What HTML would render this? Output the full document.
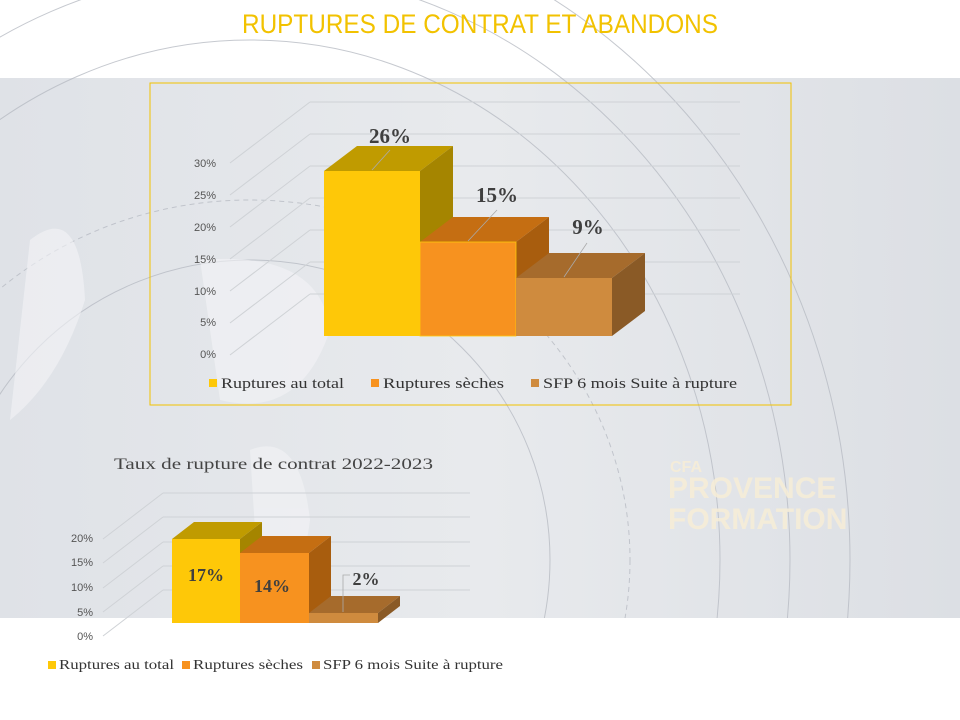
<!DOCTYPE html>
<html><head><meta charset="utf-8"><style>
html,body{margin:0;padding:0;overflow:hidden;width:960px;height:720px;}
body{background:#fff;font-family:"Liberation Serif",serif;}
#wrap{position:absolute;left:0;top:0;width:960px;height:720px;overflow:hidden;}
svg{display:block;overflow:hidden;}
</style></head><body><div id="wrap">
<svg width="960" height="720" viewBox="0 0 960 720" xmlns="http://www.w3.org/2000/svg">
<defs>
<linearGradient id="bg" x1="0" y1="0" x2="1" y2="0">
<stop offset="0" stop-color="#dfe2e7"/><stop offset="0.5" stop-color="#e8eaed"/><stop offset="1" stop-color="#dcdfe4"/>
</linearGradient>
</defs>
<rect x="0" y="78" width="960" height="540" fill="url(#bg)"/>
<g fill="none" stroke="#b8bcc4" stroke-width="1" opacity="0.8">
<ellipse cx="250" cy="560" rx="470" ry="520"/>
<ellipse cx="250" cy="560" rx="540" ry="590"/>
<ellipse cx="250" cy="560" rx="600" ry="650"/>
<ellipse cx="250" cy="560" rx="380" ry="360" stroke-dasharray="5,4"/>
<ellipse cx="250" cy="560" rx="300" ry="300"/>
</g>
<g fill="#f3f4f6" opacity="0.6">
<path d="M30 240 Q80 200 85 300 Q60 380 10 420 Z"/>
<path d="M200 260 Q320 250 330 330 Q300 420 220 400 Z"/>
<path d="M250 450 Q300 430 310 520 Q300 600 260 610 Z"/>
</g>
<text x="242" y="33" font-family="Liberation Sans,sans-serif" font-size="27" fill="#f2c200" textLength="476" lengthAdjust="spacingAndGlyphs">RUPTURES DE CONTRAT ET ABANDONS</text>
<g font-family="Liberation Sans,sans-serif" font-weight="bold" font-size="30" fill="#f6edd8" opacity="0.9">
<text x="670" y="472" font-size="16">CFA</text>
<text x="668" y="498">PROVENCE</text>
<text x="668" y="529">FORMATION</text>
</g>
<rect x="150" y="83" width="641" height="322" fill="none" stroke="#f2c200" stroke-width="1"/>
<g stroke="#cfd2d6" stroke-width="1">
<line x1="230" y1="163" x2="310" y2="102"/><line x1="310" y1="102" x2="740" y2="102"/>
<line x1="230" y1="195" x2="310" y2="134"/><line x1="310" y1="134" x2="740" y2="134"/>
<line x1="230" y1="227" x2="310" y2="166"/><line x1="310" y1="166" x2="740" y2="166"/>
<line x1="230" y1="259" x2="310" y2="198"/><line x1="310" y1="198" x2="740" y2="198"/>
<line x1="230" y1="291" x2="310" y2="230"/><line x1="310" y1="230" x2="740" y2="230"/>
<line x1="230" y1="323" x2="310" y2="262"/><line x1="310" y1="262" x2="740" y2="262"/>
<line x1="230" y1="355" x2="310" y2="294"/><line x1="310" y1="294" x2="740" y2="294"/>
</g>
<g font-family="Liberation Sans,sans-serif" font-size="11" fill="#555" text-anchor="end">
<text x="216" y="167">30%</text><text x="216" y="199">25%</text><text x="216" y="231">20%</text>
<text x="216" y="263">15%</text><text x="216" y="295">10%</text><text x="216" y="326">5%</text><text x="216" y="358">0%</text>
</g>
<polygon points="324,171 357,146 453,146 420,171" fill="#c09b00"/>
<polygon points="420,171 453,146 453,311 420,336" fill="#a58500"/>
<rect x="324" y="171" width="96" height="165" fill="#fec808"/>
<polygon points="420,242 453,217 549,217 516,242" fill="#c56e12"/>
<polygon points="516,242 549,217 549,311 516,336" fill="#a85d0e"/>
<rect x="420" y="242" width="96" height="94" fill="#f7921f" stroke="#fec808" stroke-width="0.8"/>
<polygon points="516,278 549,253 645,253 612,278" fill="#a66b2c"/>
<polygon points="612,278 645,253 645,311 612,336" fill="#8a5a26"/>
<rect x="516" y="278" width="96" height="58" fill="#cf8b3e"/>
<g stroke="#aaa" stroke-width="0.8"><line x1="372" y1="170" x2="390" y2="150"/><line x1="468" y1="241" x2="497" y2="210"/><line x1="564" y1="277" x2="587" y2="243"/></g>
<g font-weight="bold" font-size="21" fill="#3f3f3f" text-anchor="middle">
<text x="390" y="143">26%</text><text x="497" y="202">15%</text><text x="588" y="234">9%</text>
</g>
<g font-size="15" fill="#333">
<rect x="209" y="379" width="8" height="8" fill="#fec808"/><text x="221" y="388" textLength="123" lengthAdjust="spacingAndGlyphs">Ruptures au total</text>
<rect x="371" y="379" width="8" height="8" fill="#f7921f"/><text x="383" y="388" textLength="121" lengthAdjust="spacingAndGlyphs">Ruptures sèches</text>
<rect x="531" y="379" width="8" height="8" fill="#cf8b3e"/><text x="543" y="388" textLength="194" lengthAdjust="spacingAndGlyphs">SFP 6 mois  Suite à rupture</text>
</g>
<rect x="0" y="618" width="960" height="102" fill="#fff"/>
<text x="114" y="469" font-size="16" fill="#444" textLength="319" lengthAdjust="spacingAndGlyphs">Taux de rupture de contrat 2022-2023</text>
<g stroke="#cfd2d6" stroke-width="1">
<line x1="103" y1="539" x2="163" y2="493"/><line x1="163" y1="493" x2="470" y2="493"/>
<line x1="103" y1="563" x2="163" y2="517"/><line x1="163" y1="517" x2="470" y2="517"/>
<line x1="103" y1="588" x2="163" y2="542"/><line x1="163" y1="542" x2="470" y2="542"/>
<line x1="103" y1="612" x2="163" y2="566"/><line x1="163" y1="566" x2="470" y2="566"/>
<line x1="103" y1="636" x2="163" y2="590"/><line x1="163" y1="590" x2="470" y2="590"/>
</g>
<g font-family="Liberation Sans,sans-serif" font-size="11" fill="#555" text-anchor="end">
<text x="93" y="542">20%</text><text x="93" y="566">15%</text><text x="93" y="591">10%</text><text x="93" y="616">5%</text><text x="93" y="640">0%</text>
</g>
<polygon points="172,539 194,522 262,522 240,539" fill="#c09b00"/>
<polygon points="240,539 262,522 262,606 240,623" fill="#a58500"/>
<rect x="172" y="539" width="68" height="84" fill="#fec808"/>
<polygon points="240,553 262,536 331,536 309,553" fill="#c56e12"/>
<polygon points="309,553 331,536 331,606 309,623" fill="#a85d0e"/>
<rect x="240" y="553" width="69" height="70" fill="#f7921f"/>
<polygon points="309,613 331,596 400,596 378,613" fill="#a66b2c"/>
<polygon points="378,613 400,596 400,606 378,623" fill="#8a5a26"/>
<rect x="309" y="613" width="69" height="10" fill="#cf8b3e"/>
<polyline points="343,612 343,575 350,575" fill="none" stroke="#aaa" stroke-width="0.8"/>
<g font-weight="bold" font-size="18" fill="#3f3f3f" text-anchor="middle">
<text x="206" y="581">17%</text><text x="272" y="592">14%</text><text x="366" y="585">2%</text>
</g>
<g font-size="14" fill="#333">
<rect x="48" y="661" width="8" height="8" fill="#fec808"/><text x="59" y="669" textLength="115" lengthAdjust="spacingAndGlyphs">Ruptures au total</text>
<rect x="182" y="661" width="8" height="8" fill="#f7921f"/><text x="193" y="669" textLength="110" lengthAdjust="spacingAndGlyphs">Ruptures sèches</text>
<rect x="312" y="661" width="8" height="8" fill="#cf8b3e"/><text x="323" y="669" textLength="180" lengthAdjust="spacingAndGlyphs">SFP 6 mois  Suite à rupture</text>
</g>
</svg>
</div></body></html>
